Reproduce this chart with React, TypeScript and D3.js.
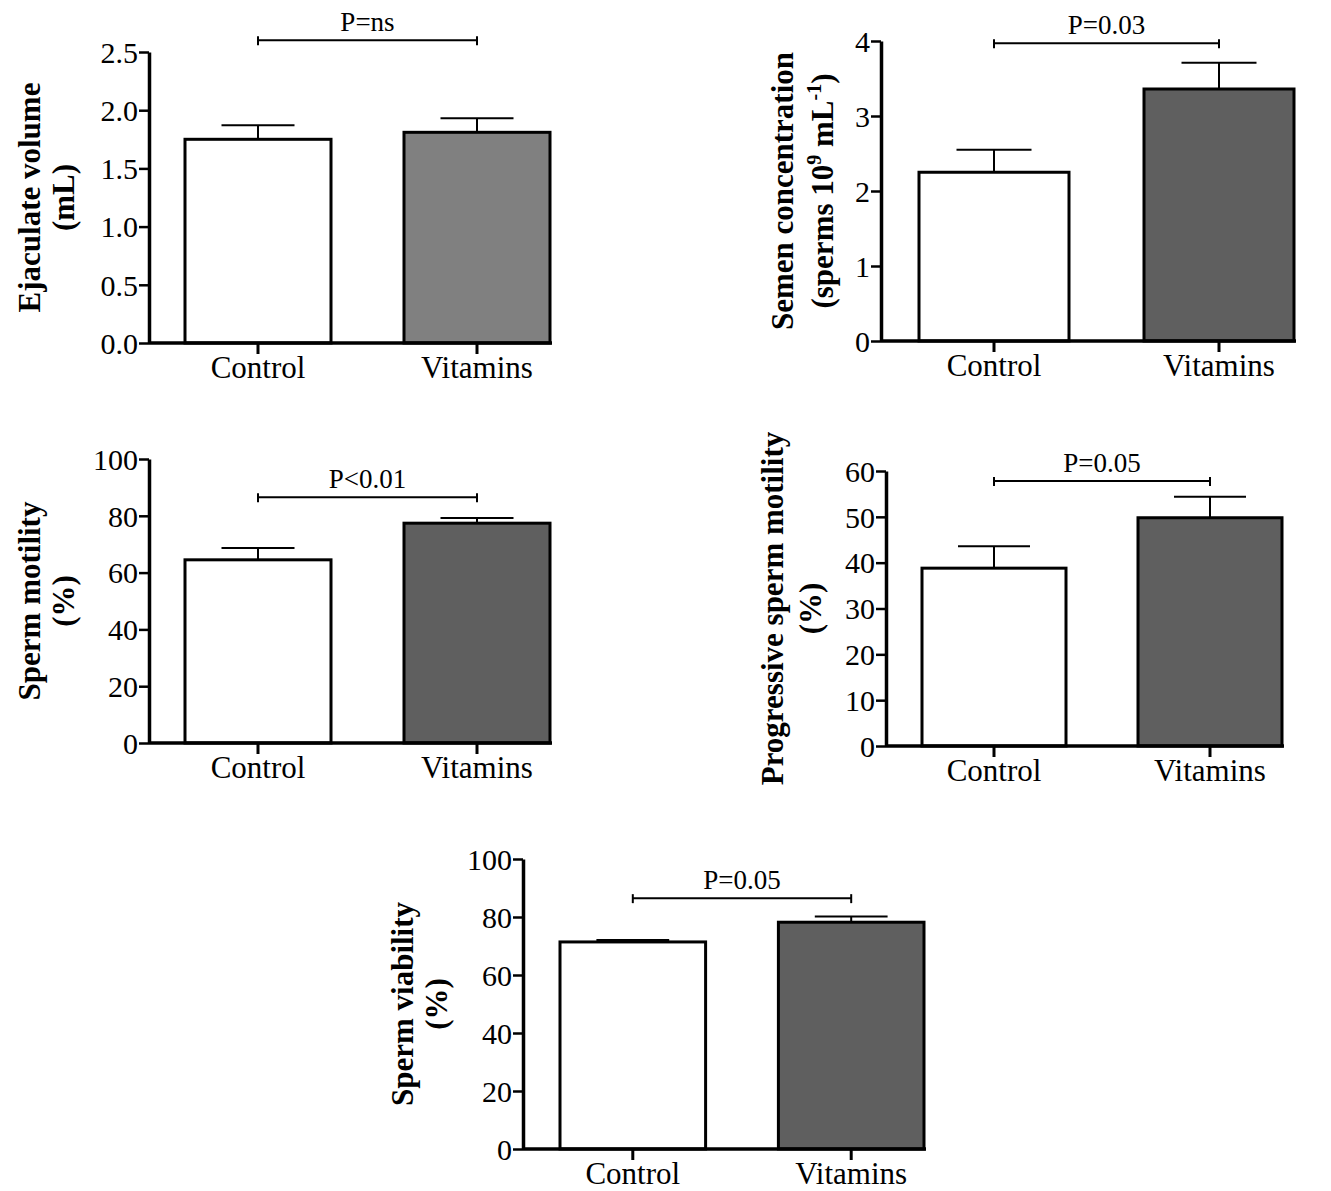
import React, { useEffect, useRef } from "react";
import * as d3 from "d3";

// Groups shared by every panel
const groups = ["Control", "Vitamins"];

// Means and upper error (mean + SEM)
const volumeMeans = [1.75, 1.81];
const volumeUpper = [1.87, 1.93];
const volumeTicks = [0, 0.5, 1.0, 1.5, 2.0, 2.5];

const concMeans = [2.25, 3.36];
const concUpper = [2.55, 3.71];
const concTicks = [0, 1, 2, 3, 4];

const motilityMeans = [64.5, 77.4];
const motilityUpper = [68.7, 79.2];
const motilityTicks = [0, 20, 40, 60, 80, 100];

const progMeans = [38.8, 49.8];
const progUpper = [43.6, 54.4];
const progTicks = [0, 10, 20, 30, 40, 50, 60];

const viabilityMeans = [71.4, 78.2];
const viabilityUpper = [72.1, 80.2];
const viabilityTicks = [0, 20, 40, 60, 80, 100];

const pLabels = ["P=ns", "P=0.03", "P<0.01", "P=0.05", "P=0.05"];
const bracketValues = [2.6, 3.97, 86.5, 57.8, 86.5];

const SERIF = "Liberation Serif, Times New Roman, serif";

interface PanelProps {
  means: number[];
  upper: number[];
  ticks: number[];
  fmt: string;
  axisX: number;
  barsX: [number, number];
  yTop: number;
  yBottom: number;
  vitColor: string;
  label: React.ReactNode[];
  labelX: [number, number];
  pLabel: string;
  bracket: number;
}

function Panel(p: PanelProps) {
  const yRef = useRef<SVGGElement>(null);
  const xRef = useRef<SVGGElement>(null);

  const y = d3
    .scaleLinear()
    .domain([0, p.ticks[p.ticks.length - 1]])
    .range([p.yBottom, p.yTop]);
  const x = d3.scaleBand<string>().domain(groups).range(p.barsX).paddingInner(1 / 3).paddingOuter(0);
  const bw = x.bandwidth();
  const xEnd = p.barsX[1] + 2;

  useEffect(() => {
    const fmt = d3.format(p.fmt);
    const gy = d3.select(yRef.current!);
    gy.call(
      d3
        .axisLeft(y)
        .tickValues(p.ticks)
        .tickFormat((d) => fmt(d as number))
        .tickSize(10)
        .tickSizeOuter(0)
    );
    gy.style("font-family", SERIF).style("font-size", "30px");
    gy.select(".domain").attr("stroke", "#000").attr("stroke-width", 3.5);
    gy.selectAll(".tick line").attr("stroke", "#000").attr("stroke-width", 2.5);
    gy.selectAll(".tick text")
      .style("font-family", SERIF)
      .style("font-size", "30px")
      .attr("fill", "#000")
      .attr("x", -11)
      .attr("dy", "0.34em");

    const gx = d3.select(xRef.current!);
    gx.call(d3.axisBottom(x).tickSize(11).tickSizeOuter(0));
    gx.style("font-family", SERIF).style("font-size", "31px");
    gx.select(".domain").remove();
    gx.selectAll(".tick line").attr("stroke", "#000").attr("stroke-width", 3);
    gx.selectAll(".tick text")
      .style("font-family", SERIF)
      .style("font-size", "31px")
      .attr("fill", "#000")
      .attr("y", 35)
      .attr("dy", 0);
  });

  const c0 = x(groups[0])! + bw / 2;
  const c1 = x(groups[1])! + bw / 2;
  const by = y(p.bracket);
  const midY = (p.yTop + p.yBottom) / 2;
  const capHalf = bw / 4;

  return (
    <g>
      {/* bars */}
      {groups.map((g, i) => (
        <rect
          key={g}
          x={x(g)}
          y={y(p.means[i])}
          width={bw}
          height={p.yBottom - y(p.means[i])}
          fill={i === 0 ? "#ffffff" : p.vitColor}
          stroke="#000"
          strokeWidth={3}
        />
      ))}
      {/* upper error bars */}
      {groups.map((g, i) => {
        const cx = x(g)! + bw / 2;
        return (
          <g key={g + "-err"} stroke="#000" strokeWidth={2}>
            <line x1={cx} x2={cx} y1={y(p.means[i])} y2={y(p.upper[i])} />
            <line x1={cx - capHalf} x2={cx + capHalf} y1={y(p.upper[i])} y2={y(p.upper[i])} />
          </g>
        );
      })}
      {/* x baseline */}
      <line x1={p.axisX} x2={xEnd} y1={p.yBottom} y2={p.yBottom} stroke="#000" strokeWidth={3.5} />
      <g ref={xRef} transform={`translate(0,${p.yBottom})`} />
      <g ref={yRef} transform={`translate(${p.axisX},0)`} />
      {/* significance bracket */}
      <g stroke="#000" strokeWidth={2}>
        <line x1={c0} x2={c1} y1={by} y2={by} />
        <line x1={c0} x2={c0} y1={by - 4} y2={by + 5} />
        <line x1={c1} x2={c1} y1={by - 4} y2={by + 5} />
      </g>
      <text
        x={(c0 + c1) / 2}
        y={by - 9}
        textAnchor="middle"
        style={{ fontFamily: SERIF, fontSize: 27 }}
        fill="#000"
      >
        {p.pLabel}
      </text>
      {/* y label, two lines */}
      {p.label.map((t, i) => (
        <text
          key={i}
          transform={`translate(${p.labelX[i]},${midY}) rotate(-90)`}
          textAnchor="middle"
          dy="0.35em"
          style={{ fontFamily: SERIF, fontSize: 31, fontWeight: "bold" }}
          fill="#000"
        >
          {t}
        </text>
      ))}
    </g>
  );
}

export default function App() {
  return (
    <svg
      width={1331}
      height={1191}
      style={{ position: "absolute", left: 0, top: 0, background: "#fff" }}
    >
      <rect width={1331} height={1191} fill="#fff" />
      <Panel
        means={volumeMeans}
        upper={volumeUpper}
        ticks={volumeTicks}
        fmt=".1f"
        axisX={149}
        barsX={[185, 550]}
        yTop={52}
        yBottom={343}
        vitColor="#808080"
        label={["Ejaculate volume", "(mL)"]}
        labelX={[29, 63]}
        pLabel={pLabels[0]}
        bracket={bracketValues[0]}
      />
      <Panel
        means={concMeans}
        upper={concUpper}
        ticks={concTicks}
        fmt="d"
        axisX={881}
        barsX={[919, 1294]}
        yTop={41}
        yBottom={341}
        vitColor="#5f5f5f"
        label={[
          "Semen concentration",
          <>
            (sperms 10
            <tspan fontSize={20} dy="-12">9</tspan>
            <tspan dy="12"> mL</tspan>
            <tspan fontSize={20} dy="-12">-1</tspan>
            <tspan dy="12">)</tspan>
          </>,
        ]}
        labelX={[782, 822]}
        pLabel={pLabels[1]}
        bracket={bracketValues[1]}
      />
      <Panel
        means={motilityMeans}
        upper={motilityUpper}
        ticks={motilityTicks}
        fmt="d"
        axisX={149}
        barsX={[185, 550]}
        yTop={459}
        yBottom={743}
        vitColor="#5f5f5f"
        label={["Sperm motility", "(%)"]}
        labelX={[29, 63]}
        pLabel={pLabels[2]}
        bracket={bracketValues[2]}
      />
      <Panel
        means={progMeans}
        upper={progUpper}
        ticks={progTicks}
        fmt="d"
        axisX={886}
        barsX={[922, 1282]}
        yTop={471}
        yBottom={746}
        vitColor="#5f5f5f"
        label={["Progressive sperm motility", "(%)"]}
        labelX={[772, 810]}
        pLabel={pLabels[3]}
        bracket={bracketValues[3]}
      />
      <Panel
        means={viabilityMeans}
        upper={viabilityUpper}
        ticks={viabilityTicks}
        fmt="d"
        axisX={523}
        barsX={[560, 924]}
        yTop={859}
        yBottom={1149}
        vitColor="#5f5f5f"
        label={["Sperm viability", "(%)"]}
        labelX={[402, 436]}
        pLabel={pLabels[4]}
        bracket={bracketValues[4]}
      />
    </svg>
  );
}
